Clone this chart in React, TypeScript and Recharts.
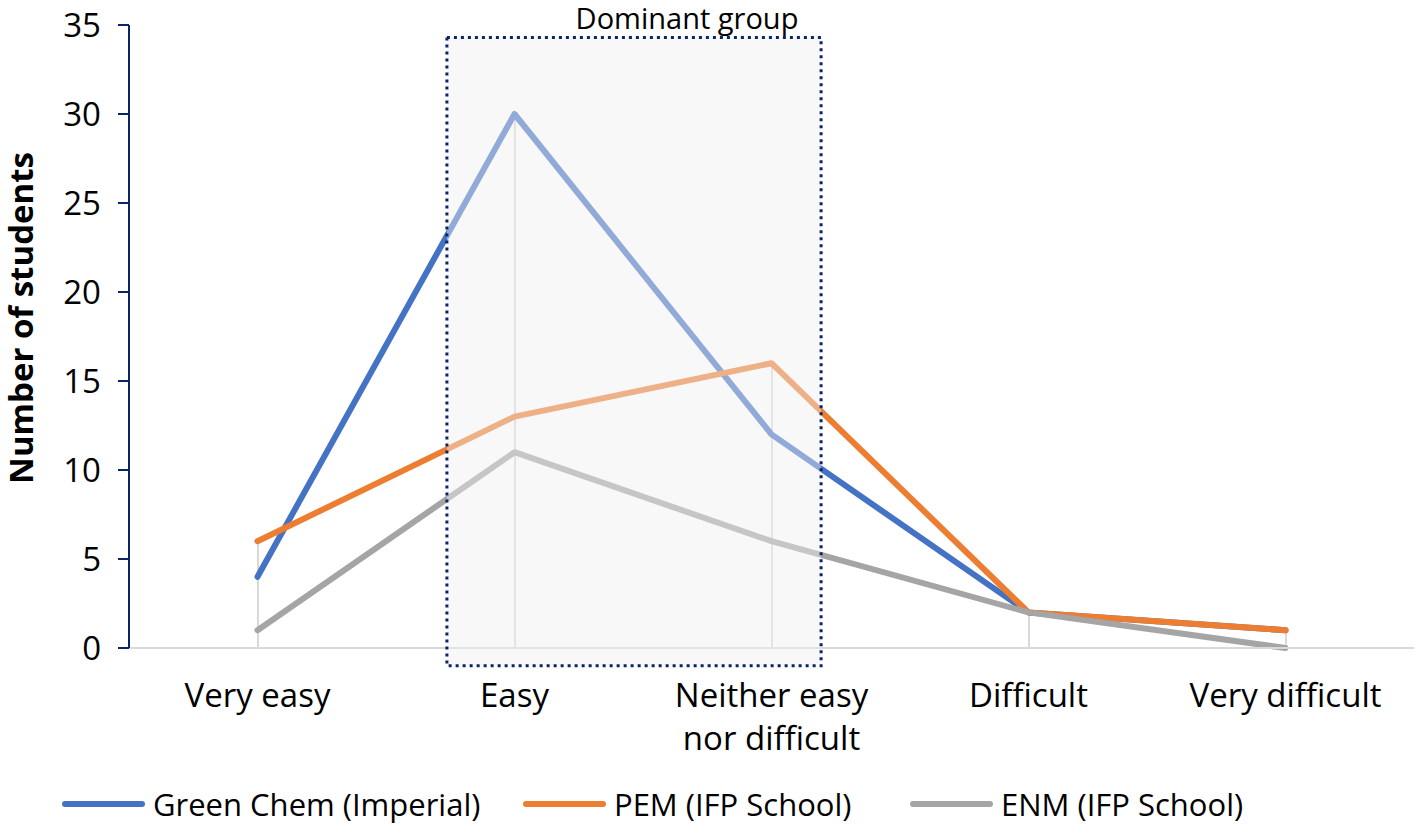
import React from 'react'
import {
    ComposedChart,
    Line,
    Bar,
    XAxis,
    YAxis,
    ReferenceArea
} from 'recharts'

const categories = ['Very easy', 'Easy', 'Neither easy\nnor difficult', 'Difficult', 'Very difficult']
const greenChem = [4, 30, 12, 2, 1]
const pem = [6, 13, 16, 2, 1]
const enm = [1, 11, 6, 2, 0]
const yTicks = [0, 5, 10, 15, 20, 25, 30, 35]

const seriesList = [
    { key: 'green', name: 'Green Chem (Imperial)', color: '#4472C4', slot: 461 },
    { key: 'pem', name: 'PEM (IFP School)', color: '#ED7D31', slot: 387 },
    { key: 'enm', name: 'ENM (IFP School)', color: '#A5A5A5', slot: 360 }
]

// dominant group box, in data units
const boxX = [0.737, 2.193]
const boxY = [-1.0, 34.3]

const FONT = '"Open Sans", Lato, sans-serif'
const NAVY = '#0b2467'

const data = categories.map((c, i) => ({
    idx: i,
    green: greenChem[i],
    pem: pem[i],
    enm: enm[i],
    peak: Math.max(greenChem[i], pem[i], enm[i])
}))

const XTick = (props: any) => {
    const { x, y, payload } = props
    const lines = categories[payload.value].split('\n')
    return (
        <text x={x} y={y + 51} textAnchor="middle" fontFamily={FONT} fontSize={33} fill="#000">
            {lines.map((l, i) => (
                <tspan key={i} x={x} dy={i === 0 ? 0 : 43}>{l}</tspan>
            ))}
        </text>
    )
}

const YLabel = () => (
    <text x={33} y={318} transform="rotate(-90 33 318)" textAnchor="middle" fontFamily={FONT} fontSize={33} fontWeight="bold" fill="#000">
        Number of students
    </text>
)

export default function App() {
    return (
        <div style={{ position: 'absolute', left: 0, top: 0, width: 1416, height: 834, background: '#fff' }}>
            <ComposedChart width={1416} height={770} data={data} margin={{ top: 25, right: 2, bottom: 32, left: 0 }}>
                <XAxis
                    dataKey="idx"
                    type="number"
                    domain={[-0.5, 4.5]}
                    ticks={[0, 1, 2, 3, 4]}
                    tick={<XTick />}
                    tickLine={false}
                    height={90}
                    stroke="#d9d9d9"
                    strokeWidth={2}
                    interval={0}
                />
                <YAxis
                    type="number"
                    domain={[0, 35]}
                    ticks={yTicks}
                    width={129}
                    stroke={NAVY}
                    strokeWidth={2}
                    tickSize={11}
                    tickMargin={17}
                    tick={{ fill: '#000', fontSize: 33, fontFamily: FONT }}
                    label={<YLabel />}
                />
                <Bar dataKey="peak" barSize={2} fill="#d9d9d9" isAnimationActive={false} />
                {seriesList.map(s => (
                    <Line
                        key={s.key}
                        dataKey={s.key}
                        stroke={s.color}
                        strokeWidth={6}
                        dot={false}
                        strokeLinecap="round"
                        strokeLinejoin="round"
                        isAnimationActive={false}
                    />
                ))}
                <ReferenceArea
                    x1={boxX[0]}
                    x2={boxX[1]}
                    y1={boxY[0]}
                    y2={boxY[1]}
                    ifOverflow="visible"
                    fill="#f0f0f0"
                    fillOpacity={0.45}
                    stroke={NAVY}
                    strokeWidth={3}
                    strokeDasharray="3 4"
                    zIndex={500}
                    label={{ value: 'Dominant group', position: 'top', offset: 8, dx: 53, fontSize: 29, fontFamily: FONT, fill: '#000' }}
                />
            </ComposedChart>
            <div style={{ position: 'absolute', left: 62, top: 783, display: 'flex', fontFamily: FONT, fontSize: 31, color: '#000' }}>
                {seriesList.map(s => (
                    <div key={s.key} style={{ display: 'flex', alignItems: 'center', gap: 8, width: s.slot }}>
                        <div style={{ width: 83, height: 6, borderRadius: 3, background: s.color, flexShrink: 0 }} />
                        <span style={{ whiteSpace: 'nowrap' }}>{s.name}</span>
                    </div>
                ))}
            </div>
        </div>
    )
}
